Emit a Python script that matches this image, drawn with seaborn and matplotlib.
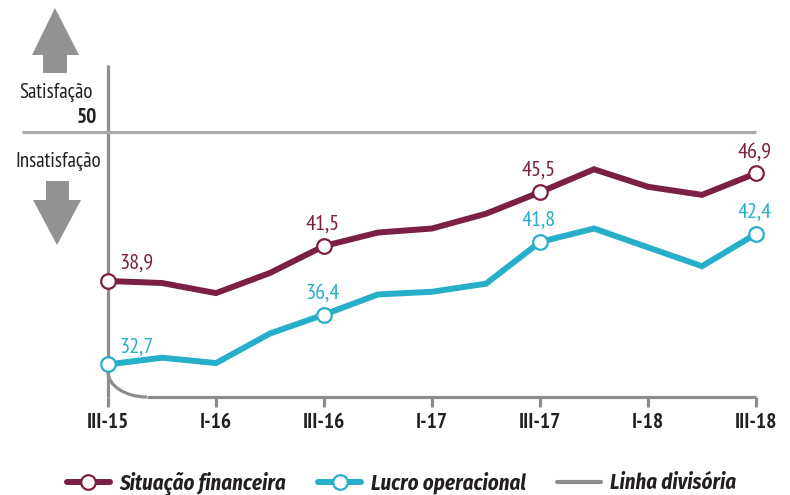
import matplotlib
matplotlib.use("Agg")
import matplotlib.pyplot as plt
import numpy as np
import pandas as pd
import seaborn as sns
from matplotlib.lines import Line2D
from matplotlib.patches import PathPatch, Polygon
from matplotlib.path import Path

quarters = ['III-15', 'IV-15', 'I-16', 'II-16', 'III-16', 'IV-16', 'I-17',
            'II-17', 'III-17', 'IV-17', 'I-18', 'II-18', 'III-18']
situacao = [38.9, 38.75, 38.0, 39.5, 41.5, 42.5, 42.8, 43.9, 45.5, 47.2, 45.9, 45.3, 46.9]
lucro = [32.7, 33.2, 32.8, 35.0, 36.4, 37.9, 38.1, 38.7, 41.8, 42.8, 41.4, 40.0, 42.4]
labeled = [0, 4, 8, 12]
divisa = 50
legend_names = ['Situação financeira', 'Lucro operacional', 'Linha divisória']

MAROON = '#7b1f45'
CYAN = '#27aec8'
GRAY = '#8d8d90'
LIGHTGRAY = '#ababad'
DARK = '#231f20'

sns.set_theme(style="white")
plt.rcParams['font.family'] = ['PT Sans Narrow', 'DejaVu Sans']

W, H = 790, 495
fig = plt.figure(figsize=(W / 100, H / 100), dpi=100)
ax = fig.add_axes([108 / W, (H - 397) / H, 648 / W, (397 - 65) / H])

df = pd.DataFrame({'pos': np.arange(len(quarters)), 'situacao': situacao, 'lucro': lucro})
y0, y1 = 30.28, 54.95
ax.set_xlim(0, len(quarters) - 1)
ax.set_ylim(y0, y1)

# frame: vertical axis, bottom axis with rounded corner, 50 line
ax.plot([0, 0], [y0, y1], color=GRAY, lw=2.3, clip_on=False, zorder=1, solid_capstyle='butt')
ax.plot([-1.59, 12], [divisa, divisa], color=LIGHTGRAY, lw=2.3, clip_on=False, zorder=1,
        solid_capstyle='butt')
ax.plot([0.72, 12], [y0, y0], color=GRAY, lw=2.3, clip_on=False, zorder=1, solid_capstyle='butt')
top = 32.15
verts = [(0, top), (0, top - 0.55 * (top - y0)), (0.72 * 0.45, y0), (0.72, y0)]
ax.add_patch(PathPatch(Path(verts, [Path.MOVETO, Path.CURVE4, Path.CURVE4, Path.CURVE4]),
                       fill=False, ec=GRAY, lw=2.3, clip_on=False, zorder=1))

for col, color in [('situacao', MAROON), ('lucro', CYAN)]:
    sns.lineplot(data=df, x='pos', y=col, ax=ax, color=color, lw=4.3, marker='o',
                 markevery=labeled, markersize=10.5, markerfacecolor='white',
                 markeredgecolor=color, markeredgewidth=1.6, clip_on=False, zorder=3,
                 solid_joinstyle='miter')
    vals = df[col].tolist()
    for i in labeled:
        txt = f"{vals[i]:.1f}".replace('.', ',')
        if i == 0:
            ax.annotate(txt, (i, vals[i]), xytext=(8.5, 12.5), textcoords='offset points',
                        ha='left', va='center', color=color, fontsize=16)
        else:
            ax.annotate(txt, (i, vals[i]), xytext=(-1, 15.5), textcoords='offset points',
                        ha='center', va='center', color=color, fontsize=16)

for s in ax.spines.values():
    s.set_visible(False)
ax.set_xticks(range(0, len(quarters), 2))
ax.set_xticklabels(quarters[::2], fontweight='bold', color=DARK, fontsize=15.5)
ax.set_yticks([])
ax.tick_params(axis='x', length=7.2, width=2.3, color=GRAY, pad=4, bottom=True)
ax.set_xlabel('')
ax.set_ylabel('')


def fx(px):
    return px / W


def fy(py):
    return (H - py) / H


# left side captions
fig.text(fx(93), fy(98), 'Satisfação', ha='right', va='baseline', fontsize=15, color=DARK)
fig.text(fx(97), fy(123), '50', ha='right', va='baseline', fontsize=15.5, fontweight='bold',
         color=DARK)
fig.text(fx(101), fy(167), 'Insatisfação', ha='right', va='baseline', fontsize=15, color=DARK)

up = [(43, 73), (43, 55), (32, 55), (55, 8), (79, 55), (67, 55), (67, 73)]
down = [(46, 181), (46, 200), (33, 200), (57, 245), (81, 200), (69, 200), (69, 181)]
for shape in (up, down):
    fig.patches.append(Polygon([(fx(a), fy(b)) for a, b in shape], closed=True,
                               transform=fig.transFigure, fc='#929295', ec='none'))

handles = [
    Line2D([], [], color=MAROON, lw=4.3, marker='o', markersize=10.5, mfc='white',
           mec=MAROON, mew=1.6),
    Line2D([], [], color=CYAN, lw=4.3, marker='o', markersize=10.5, mfc='white',
           mec=CYAN, mew=1.6),
    Line2D([], [], color=GRAY, lw=3),
]
leg = fig.legend(handles, legend_names, loc='center', bbox_to_anchor=(0.508, fy(483)),
                 ncol=3, frameon=False, handlelength=2.1, handletextpad=0.45,
                 columnspacing=1.5, numpoints=1,
                 prop={'family': 'Fira Sans Condensed', 'weight': 'bold',
                       'style': 'italic', 'size': 15})
for t in leg.get_texts():
    t.set_color(DARK)

fig.savefig('out.png', dpi=100)
